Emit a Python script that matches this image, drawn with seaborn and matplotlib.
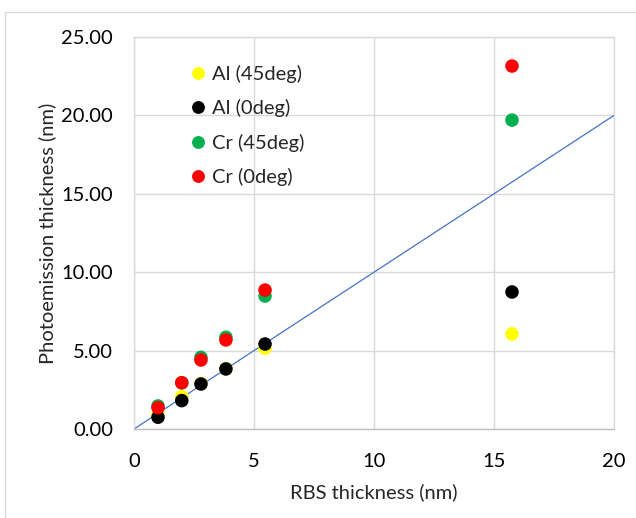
import matplotlib
matplotlib.use("Agg")
import matplotlib.pyplot as plt
import seaborn as sns
import pandas as pd
from matplotlib.patches import Rectangle

# RBS thickness (nm) of the samples
rbs = [1.0, 1.99, 2.79, 3.83, 5.46, 15.75]

# Photoemission thickness (nm) for each series
al_45 = [0.96, 2.06, 2.90, 3.85, 5.15, 6.06]
al_0 = [0.75, 1.81, 2.87, 3.83, 5.42, 8.74]
cr_45 = [1.47, 2.95, 4.57, 5.85, 8.48, 19.70]
cr_0 = [1.36, 2.95, 4.40, 5.68, 8.86, 23.15]

series_names = ["Al (45deg)", "Al (0deg)", "Cr (45deg)", "Cr (0deg)"]
series_colors = ["#FFFF00", "#000000", "#00B050", "#FF0000"]

# reference line y = x
ref_x = [0, 20]
ref_y = [0, 20]

x_ticks = [0, 5, 10, 15, 20]
y_ticks = [0, 5, 10, 15, 20, 25]

rows = []
for name, vals in zip(series_names, [al_45, al_0, cr_45, cr_0]):
    for xv, yv in zip(rbs, vals):
        rows.append({"RBS": xv, "PE": yv, "series": name})
df = pd.DataFrame(rows)

sns.set_style("white")
plt.rcParams["font.family"] = ["Lato", "DejaVu Sans"]

fig = plt.figure(figsize=(6.36, 5.18), dpi=100)
ax = fig.add_axes([134 / 636, 1 - 429 / 518, 480 / 636, 392 / 518])

# outer chart border
fig.patches.append(Rectangle((5 / 636, -0.1), 1.2, 1 - 12 / 518 + 0.1,
                             transform=fig.transFigure, fill=False,
                             edgecolor="#D9D9D9", linewidth=1.0, zorder=0))

sns.lineplot(x=ref_x, y=ref_y, ax=ax, color="#4472C4", linewidth=0.9, zorder=2)
sns.scatterplot(data=df, x="RBS", y="PE", hue="series", hue_order=series_names,
                palette=series_colors, s=95, edgecolor="none", ax=ax, zorder=3)

ax.set_xlim(0, 20)
ax.set_ylim(0, 25)
ax.set_xticks(x_ticks)
ax.set_yticks(y_ticks)
ax.set_yticklabels([f"{v:.2f}" for v in y_ticks])
ax.tick_params(axis="both", length=0, labelsize=14.5, colors="#000000")
ax.tick_params(axis="y", pad=15)
ax.tick_params(axis="x", pad=17)
ax.grid(True, color="#D9D9D9", linewidth=1.0)
ax.set_axisbelow(True)
for side in ["top", "right", "left"]:
    ax.spines[side].set_color("#D9D9D9")
    ax.spines[side].set_linewidth(1.0)
ax.spines["bottom"].set_color("#BFBFBF")
ax.spines["bottom"].set_linewidth(1.0)

ax.set_xlabel("RBS thickness (nm)", fontsize=14.5, labelpad=10)
ax.set_ylabel("Photoemission thickness (nm)", fontsize=14.5, labelpad=4)

leg = ax.legend(loc="upper left", bbox_to_anchor=(0.1125, 0.928), frameon=False,
                fontsize=14.5, handlelength=1.0, handletextpad=0.2,
                labelspacing=0.8, borderaxespad=0, borderpad=0,
                markerscale=0.95)

fig.savefig("out.png", dpi=100)
